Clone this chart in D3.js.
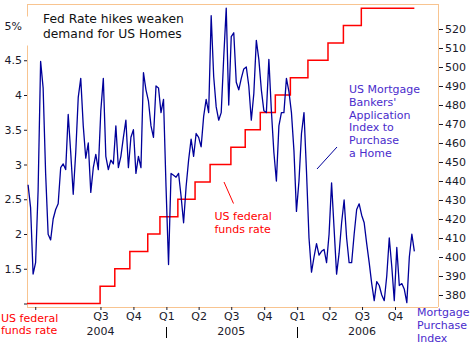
<!DOCTYPE html>
<html><head><meta charset="utf-8">
<script src="https://cdn.jsdelivr.net/npm/d3@7"></script>
<style>html,body{margin:0;padding:0;background:#fff;} svg{display:block;font-family:"DejaVu Sans",Verdana,sans-serif;}</style>
</head><body><svg id="c" width="473" height="356"></svg>
<script>
// ---- data ----
const fedChangeDates = ["2003-12-09","2004-06-30","2004-08-10","2004-09-21","2004-11-10","2004-12-14","2005-02-02","2005-03-22","2005-05-03","2005-06-30","2005-08-09","2005-09-20","2005-11-01","2005-12-13","2006-01-31","2006-03-28","2006-05-10","2006-06-29","2006-11-24"];
const fedRates = [1.00,1.25,1.50,1.75,2.00,2.25,2.50,2.75,3.00,3.25,3.50,3.75,4.00,4.25,4.50,4.75,5.00,5.25,5.25];
const mbaStartDate = "2003-12-12"; // weekly observations
const mbaValues = [438,426,391,397,435,503,489,444,412,409,420,425,428,447,449,446,475,455,433,455,
484,494,469,452,460,434,447,454,446,477,494,453,446,451,449,469,447,453,463,472,
447,463,467,444,453,447,497,488,482,469,463,490,489,476,483,437,396,444,443,442,
444,432,418,437,451,462,453,465,463,458,474,483,476,527,495,479,472,476,505,531,
480,516,518,492,488,494,499,500,490,472,486,514,504,488,477,476,504,477,455,440,
469,476,476,494,487,476,456,424,440,465,476,445,410,392,400,407,401,403,404,397,
412,439,415,391,402,418,430,410,397,397,412,425,428,422,418,407,397,386,377,387,
385,380,377,390,410,395,377,405,385,386,383,376,400,412,403];
const leftTicks = [1,1.5,2,2.5,3,3.5,4,4.5,5];
const leftTickLabels = ["","1.5","2","2.5","3","3.5","4","4.5","5%"];
const rightTicks = [380,390,400,410,420,430,440,450,460,470,480,490,500,510,520];
const quarterDates = ["2004-01-01","2004-07-01","2004-10-01","2005-01-01","2005-04-01","2005-07-01","2005-10-01","2006-01-01","2006-04-01","2006-07-01","2006-10-01"];
const quarterLabels = ["","Q3","Q4","Q1","Q2","Q3","Q4","Q1","Q2","Q3","Q4"];
const yearDates = ["2004-07-01","2005-07-01","2006-07-01"];
const yearLabels = ["2004","2005","2006"];
const yearTickDates = ["2005-01-01","2006-01-01"];
const titleLines = ["Fed Rate hikes weaken","demand for US Homes"];
const mbaNoteLines = ["US Mortgage","Bankers'","Application","Index to","Purchase","a Home"];
const fedNoteLines = ["US federal","funds rate"];
const rightAxisTitle = ["Mortgage","Purchase","Index"];
const leftAxisTitle = ["US federal","funds rate"];

// ---- layout ----
const P = {l:27, r:438, t:4, b:307};
const parse = d3.utcParse("%Y-%m-%d");
const svg = d3.select("#c");
const frame = "#f8c490", RED = "#ff0000", NAVY = "#00009a", PURP = "#4a2ccc", TXT = "#1a1a2a";

const x = d3.scaleUtc().domain([parse("2003-12-09"), parse("2007-01-29")]).range([P.l, P.r]);
const yL = d3.scaleLinear().domain([1,5]).range([303.5,25.5]);
const yR = d3.scaleLinear().domain([380,520]).range([295,29]);

const start = parse(mbaStartDate);
const mba = mbaValues.map((v,i)=>({d:d3.utcDay.offset(start, i*7), v}));
const fed = fedChangeDates.map((d,i)=>({d:parse(d), v:fedRates[i]}));

// frame
const g = svg.append("g");
g.append("line").attr("x1",P.l).attr("x2",P.r).attr("y1",P.t+0.5).attr("y2",P.t+0.5).attr("stroke",frame);
g.append("line").attr("x1",P.l).attr("x2",P.r).attr("y1",P.b+0.5).attr("y2",P.b+0.5).attr("stroke",frame);
g.append("line").attr("x1",P.l+0.5).attr("x2",P.l+0.5).attr("y1",P.t).attr("y2",P.b).attr("stroke",frame);
g.append("line").attr("x1",P.r+0.5).attr("x2",P.r+0.5).attr("y1",P.t).attr("y2",P.b).attr("stroke",frame);
// small breaks in the frame where the original had label boxes
g.append("rect").attr("x",P.l-1).attr("y",yL(5)-9).attr("width",3).attr("height",29).attr("fill","#fff");
g.append("rect").attr("x",P.r-1).attr("y",yR(400)-7).attr("width",3).attr("height",10).attr("fill","#fff");

// left axis
const la = svg.append("g").attr("transform",`translate(${P.l},0)`)
  .call(d3.axisLeft(yL).tickValues(leftTicks).tickSize(3).tickFormat((d,i)=>leftTickLabels[i]));
la.select(".domain").remove();
la.selectAll("line").attr("stroke",TXT);
la.selectAll(".tick").filter(d=>d===5).select("line").remove();
la.selectAll("text").attr("fill",TXT).style("font-size","11px").style("font-family","DejaVu Sans").attr("x",-5);

// right axis
const ra = svg.append("g").attr("transform",`translate(${P.r+1},0)`)
  .call(d3.axisRight(yR).tickValues(rightTicks).tickSize(4).tickFormat(d3.format("d")));
ra.select(".domain").remove();
ra.selectAll("line").attr("stroke",TXT);
ra.selectAll("text").attr("fill",TXT).style("font-size","11px").style("font-family","DejaVu Sans").attr("x",6);

// bottom axis
const ba = svg.append("g").attr("transform",`translate(0,${P.b})`)
  .call(d3.axisBottom(x).tickValues(quarterDates.map(parse)).tickSize(3).tickFormat((d,i)=>quarterLabels[i]));
ba.select(".domain").remove();
ba.selectAll("line").attr("stroke",TXT);
ba.selectAll("text").attr("fill",TXT).style("font-size","11px").style("font-family","DejaVu Sans").attr("y",5);

svg.append("g").selectAll("text").data(yearLabels).join("text")
  .attr("x",(d,i)=>x(parse(yearDates[i]))).attr("y",335).attr("text-anchor","middle")
  .attr("fill",TXT).style("font-size","11px").text(d=>d);
svg.append("g").selectAll("line").data(yearTickDates).join("line")
  .attr("x1",d=>Math.round(x(parse(d)))+0.5).attr("x2",d=>Math.round(x(parse(d)))+0.5)
  .attr("y1",327).attr("y2",338).attr("stroke","#000");

// series
svg.append("path").datum(fed)
  .attr("d", d3.line().x(d=>x(d.d)).y(d=>yL(d.v)).curve(d3.curveStepAfter))
  .attr("fill","none").attr("stroke",RED).attr("stroke-width",1.5);
svg.append("path").datum(mba)
  .attr("d", d3.line().x(d=>x(d.d)).y(d=>yR(d.v)))
  .attr("fill","none").attr("stroke",NAVY).attr("stroke-width",1.3).attr("stroke-linejoin","round");

// title
svg.append("g").selectAll("text").data(titleLines).join("text")
  .attr("x",43).attr("y",(d,i)=>23.2+i*14.4).attr("fill","#111").style("font-size","12.3px").text(d=>d);

// annotations
const mn = svg.append("text").attr("x",349).attr("y",93).attr("fill",PURP).style("font-size","11px");
mn.selectAll("tspan").data(mbaNoteLines).join("tspan").attr("x",349).attr("dy",(d,i)=>i?12.8:0).text(d=>d);
svg.append("line").attr("x1",317).attr("y1",169).attr("x2",337).attr("y2",147).attr("stroke",NAVY).attr("stroke-width",1);
const fn = svg.append("text").attr("x",214.5).attr("y",220).attr("fill",RED).style("font-size","11px");
fn.selectAll("tspan").data(fedNoteLines).join("tspan").attr("x",214.5).attr("dy",(d,i)=>i?12.8:0).text(d=>d);
svg.append("line").attr("x1",224).attr("y1",182).attr("x2",233.5).attr("y2",203.5).attr("stroke",RED).attr("stroke-width",1);

const rt = svg.append("text").attr("x",417).attr("y",316).attr("fill",PURP).style("font-size","11px");
rt.selectAll("tspan").data(rightAxisTitle).join("tspan").attr("x",417).attr("dy",(d,i)=>i?12.8:0).text(d=>d);
const lt = svg.append("text").attr("x",1).attr("y",321.5).attr("fill",RED).style("font-size","11px");
lt.selectAll("tspan").data(leftAxisTitle).join("tspan").attr("x",1).attr("dy",(d,i)=>i?12.8:0).text(d=>d);
</script></body></html>
